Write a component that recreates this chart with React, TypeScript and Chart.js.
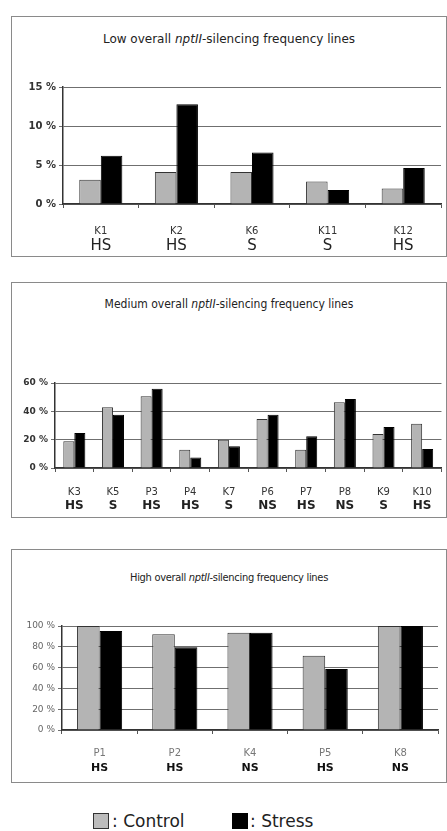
import React, { useEffect, useRef } from "react";
import { Chart, registerables } from "chart.js";
Chart.register(...registerables);

// ---- data ----
const lowLines = ["K1", "K2", "K6", "K11", "K12"];
const lowClasses = ["HS", "HS", "S", "S", "HS"];
const lowControl = [3.1, 4.1, 4.1, 2.9, 2.0];
const lowStress = [6.2, 12.8, 6.6, 1.8, 4.6];
const lowMax = 15;
const lowStep = 5;

const medLines = ["K3", "K5", "P3", "P4", "K7", "P6", "P7", "P8", "K9", "K10"];
const medClasses = ["HS", "S", "HS", "HS", "S", "NS", "HS", "NS", "S", "HS"];
const medControl = [18.8, 42.8, 50.6, 12.9, 20.0, 34.6, 12.9, 46.4, 24.0, 31.3];
const medStress = [24.7, 37.6, 56.0, 7.5, 15.3, 37.6, 22.4, 48.7, 28.9, 13.4];
const medMax = 60;
const medStep = 20;

const highLines = ["P1", "P2", "K4", "P5", "K8"];
const highClasses = ["HS", "HS", "NS", "HS", "NS"];
const highControl = [100, 92, 93.6, 71.5, 100];
const highStress = [95.2, 79.5, 93.6, 58.7, 100];
const highMax = 100;
const highStep = 20;

const seriesNames = ["Control", "Stress"];

type Geo = {
  left: number; top: number; width: number; height: number;
  padTop: number; padRight: number; yW: number; xH: number; x2H: number;
  xPad: number; x2Pad: number; f1: number; f2: number; fy: number; cat: number;
  c1: string; c2: string; cy: string; w2: any; wy: any;
};

function BarPanel(props: {
  lines: string[]; classes: string[]; control: number[]; stress: number[];
  max: number; step: number; geo: Geo;
}) {
  const ref = useRef<HTMLCanvasElement | null>(null);
  useEffect(() => {
    const g = props.geo;
    const chart = new Chart(ref.current as HTMLCanvasElement, {
      type: "bar",
      data: {
        labels: props.lines,
        datasets: [
          {
            label: seriesNames[0], data: props.control, backgroundColor: "#b4b4b4",
            borderColor: "#333", borderWidth: 1, categoryPercentage: g.cat, barPercentage: 1,
          },
          {
            label: seriesNames[1], data: props.stress, backgroundColor: "#000",
            borderColor: "#000", borderWidth: 1, categoryPercentage: g.cat, barPercentage: 1,
          },
        ],
      },
      options: {
        responsive: false,
        animation: false,
        layout: { padding: { top: g.padTop, right: g.padRight, left: 0, bottom: 0 } },
        plugins: { legend: { display: false }, title: { display: false }, tooltip: { enabled: false } },
        scales: {
          x: {
            type: "category",
            grid: { display: true, drawOnChartArea: false, tickLength: 4, color: "#555", offset: true },
            border: { color: "#333", width: 1.5 },
            ticks: {
              autoSkip: false, maxRotation: 0, padding: g.xPad, color: g.c1,
              font: { family: "DejaVu Sans", size: g.f1 },
            },
            afterFit: (s: any) => { s.height = g.xH; },
          },
          x2: {
            type: "category",
            labels: props.classes,
            position: "bottom",
            offset: true,
            grid: { display: false, drawTicks: false },
            border: { display: false },
            ticks: {
              autoSkip: false, maxRotation: 0, padding: g.x2Pad, color: g.c2,
              font: { family: "DejaVu Sans", size: g.f2, weight: g.w2 },
            },
            afterFit: (s: any) => { s.height = g.x2H; },
          },
          y: {
            min: 0, max: props.max,
            ticks: {
              stepSize: props.step, padding: 3, color: g.cy,
              font: { family: "DejaVu Sans", size: g.fy, weight: g.wy },
              callback: (v: any) => v + " %",
            },
            grid: { color: "#6f6f6f", tickLength: 4, lineWidth: 1 },
            border: { color: "#333", width: 1.5 },
            afterFit: (s: any) => { s.width = g.yW; },
          },
        } as any,
      },
    });
    return () => chart.destroy();
  }, []);
  const g = props.geo;
  return (
    <canvas
      ref={ref}
      width={g.width}
      height={g.height}
      style={{ position: "absolute", left: g.left, top: g.top, width: g.width, height: g.height }}
    />
  );
}

function Box(props: { top: number; height: number; titleTop: number; children?: any; title: any; titleStyle: any }) {
  return (
    <>
      <div style={{
        position: "absolute", left: 11, top: props.top, width: 436, height: props.height,
        border: "1.5px solid #8a8a8a", boxSizing: "border-box", background: "#fff",
      }} />
      <div style={{
        position: "absolute", left: 11, width: 436, top: props.titleTop, textAlign: "center",
        color: "#222", whiteSpace: "nowrap", lineHeight: "14px", ...props.titleStyle,
      }}>{props.title}</div>
    </>
  );
}

export default function App() {
  return (
    <div style={{ position: "absolute", left: 0, top: 0, width: 447, height: 831, background: "#fff", overflow: "hidden" }}>
      <Box top={16} height={241} titleTop={32}
        titleStyle={{ fontFamily: "DejaVu Sans", fontSize: 12 }}
        title={<>Low overall <i>nptII</i>-silencing frequency lines</>} />
      <BarPanel lines={lowLines} classes={lowClasses} control={lowControl} stress={lowStress}
        max={lowMax} step={lowStep}
        geo={{ left: 12, top: 77, width: 434, height: 178, padTop: 10, padRight: 5, yW: 51,
          xH: 31, x2H: 20, xPad: 17, x2Pad: 2, f1: 10, f2: 15, fy: 10, cat: 0.57,
          c1: "#333", c2: "#222", cy: "#333", w2: "normal", wy: "bold" }} />

      <Box top={282} height={236} titleTop={297}
        titleStyle={{ fontFamily: "DejaVu Sans Condensed", fontSize: 12 }}
        title={<>Medium overall <i>nptII</i>-silencing frequency lines</>} />
      <BarPanel lines={medLines} classes={medClasses} control={medControl} stress={medStress}
        max={medMax} step={medStep}
        geo={{ left: 12, top: 373, width: 434, height: 142, padTop: 10, padRight: 4, yW: 43,
          xH: 30, x2H: 17, xPad: 14, x2Pad: 1, f1: 10, f2: 12, fy: 9, cat: 0.57,
          c1: "#333", c2: "#222", cy: "#333", w2: "bold", wy: "bold" }} />

      <Box top={549} height={234} titleTop={571}
        titleStyle={{ fontFamily: "DejaVu Sans Condensed", fontSize: 11, letterSpacing: "-0.3px" }}
        title={<>High overall <i>nptII</i>-silencing frequency lines</>} />
      <BarPanel lines={highLines} classes={highClasses} control={highControl} stress={highStress}
        max={highMax} step={highStep}
        geo={{ left: 12, top: 616, width: 434, height: 164, padTop: 10, padRight: 8, yW: 50,
          xH: 30, x2H: 20, xPad: 13, x2Pad: 2, f1: 10, f2: 11, fy: 9, cat: 0.6,
          c1: "#777", c2: "#111", cy: "#666", w2: "bold", wy: "normal" }} />

      <div style={{ position: "absolute", left: 93, top: 813, width: 16, height: 16, background: "#bdbdbd", border: "1px solid #333", boxSizing: "border-box" }} />
      <div style={{ position: "absolute", left: 112, top: 810, fontFamily: "DejaVu Sans", fontSize: 17, lineHeight: "22px", color: "#222", whiteSpace: "nowrap" }}>: {seriesNames[0]}</div>
      <div style={{ position: "absolute", left: 232, top: 813, width: 16, height: 16, background: "#000" }} />
      <div style={{ position: "absolute", left: 250, top: 810, fontFamily: "DejaVu Sans", fontSize: 17, lineHeight: "22px", color: "#222", whiteSpace: "nowrap" }}>: {seriesNames[1]}</div>
    </div>
  );
}
